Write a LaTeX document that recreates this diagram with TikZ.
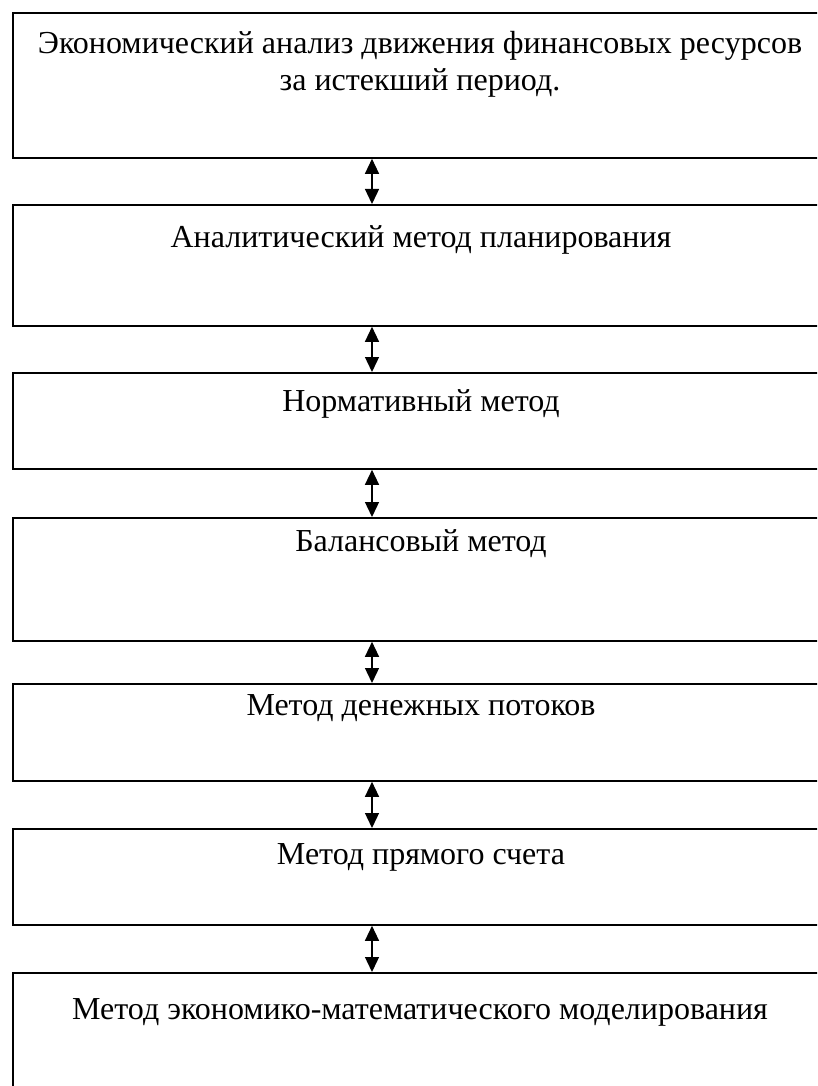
\documentclass[tikz,border=0pt]{standalone}
\usepackage{fontspec}
\setmainfont{Liberation Serif}
\usetikzlibrary{arrows.meta}
\begin{document}
\begin{tikzpicture}[x=1pt,y=-1pt,
  box/.style={draw,line width=1.8pt,inner sep=0pt,anchor=north west},
  lbl/.style={font=\fontsize{32}{37}\selectfont,align=center,inner sep=0pt,anchor=center},
  link/.style={line width=1.3pt,{Triangle[width=14pt,length=15pt]}-{Triangle[width=14pt,length=15pt]}}]
\useasboundingbox (0,0) rectangle (817,1086);
\clip (0,0) rectangle (817,1086);
\node[box,minimum width=830pt,minimum height=145pt] (b1) at (12,12) {};
\node[box,minimum width=830pt,minimum height=121pt] (b2) at (12,204) {};
\node[box,minimum width=830pt,minimum height=96pt] (b3) at (12,372) {};
\node[box,minimum width=830pt,minimum height=123pt] (b4) at (12,517) {};
\node[box,minimum width=830pt,minimum height=97pt] (b5) at (12,683) {};
\node[box,minimum width=830pt,minimum height=96pt] (b6) at (12,828) {};
\node[box,minimum width=830pt,minimum height=130pt] (b7) at (12,972) {};
\node[lbl] (t1) at (420,64) {Экономический анализ движения финансовых ресурсов\\за истекший период.};
\node[lbl] (t2) at (421,240) {Аналитический метод планирования};
\node[lbl] (t3) at (421,404) {Нормативный метод};
\node[lbl] (t4) at (421,544) {Балансовый метод};
\node[lbl] (t5) at (421,708) {Метод денежных потоков};
\node[lbl] (t6) at (421,857) {Метод прямого счета};
\node[lbl] (t7) at (420,1012) {Метод экономико-математического моделирования};
\foreach \a/\b in {b1/b2,b2/b3,b3/b4,b4/b5,b5/b6,b6/b7}
  \draw[link] (\a.south west -| 372,0) -- (\b.north west -| 372,0);
\end{tikzpicture}
\end{document}
